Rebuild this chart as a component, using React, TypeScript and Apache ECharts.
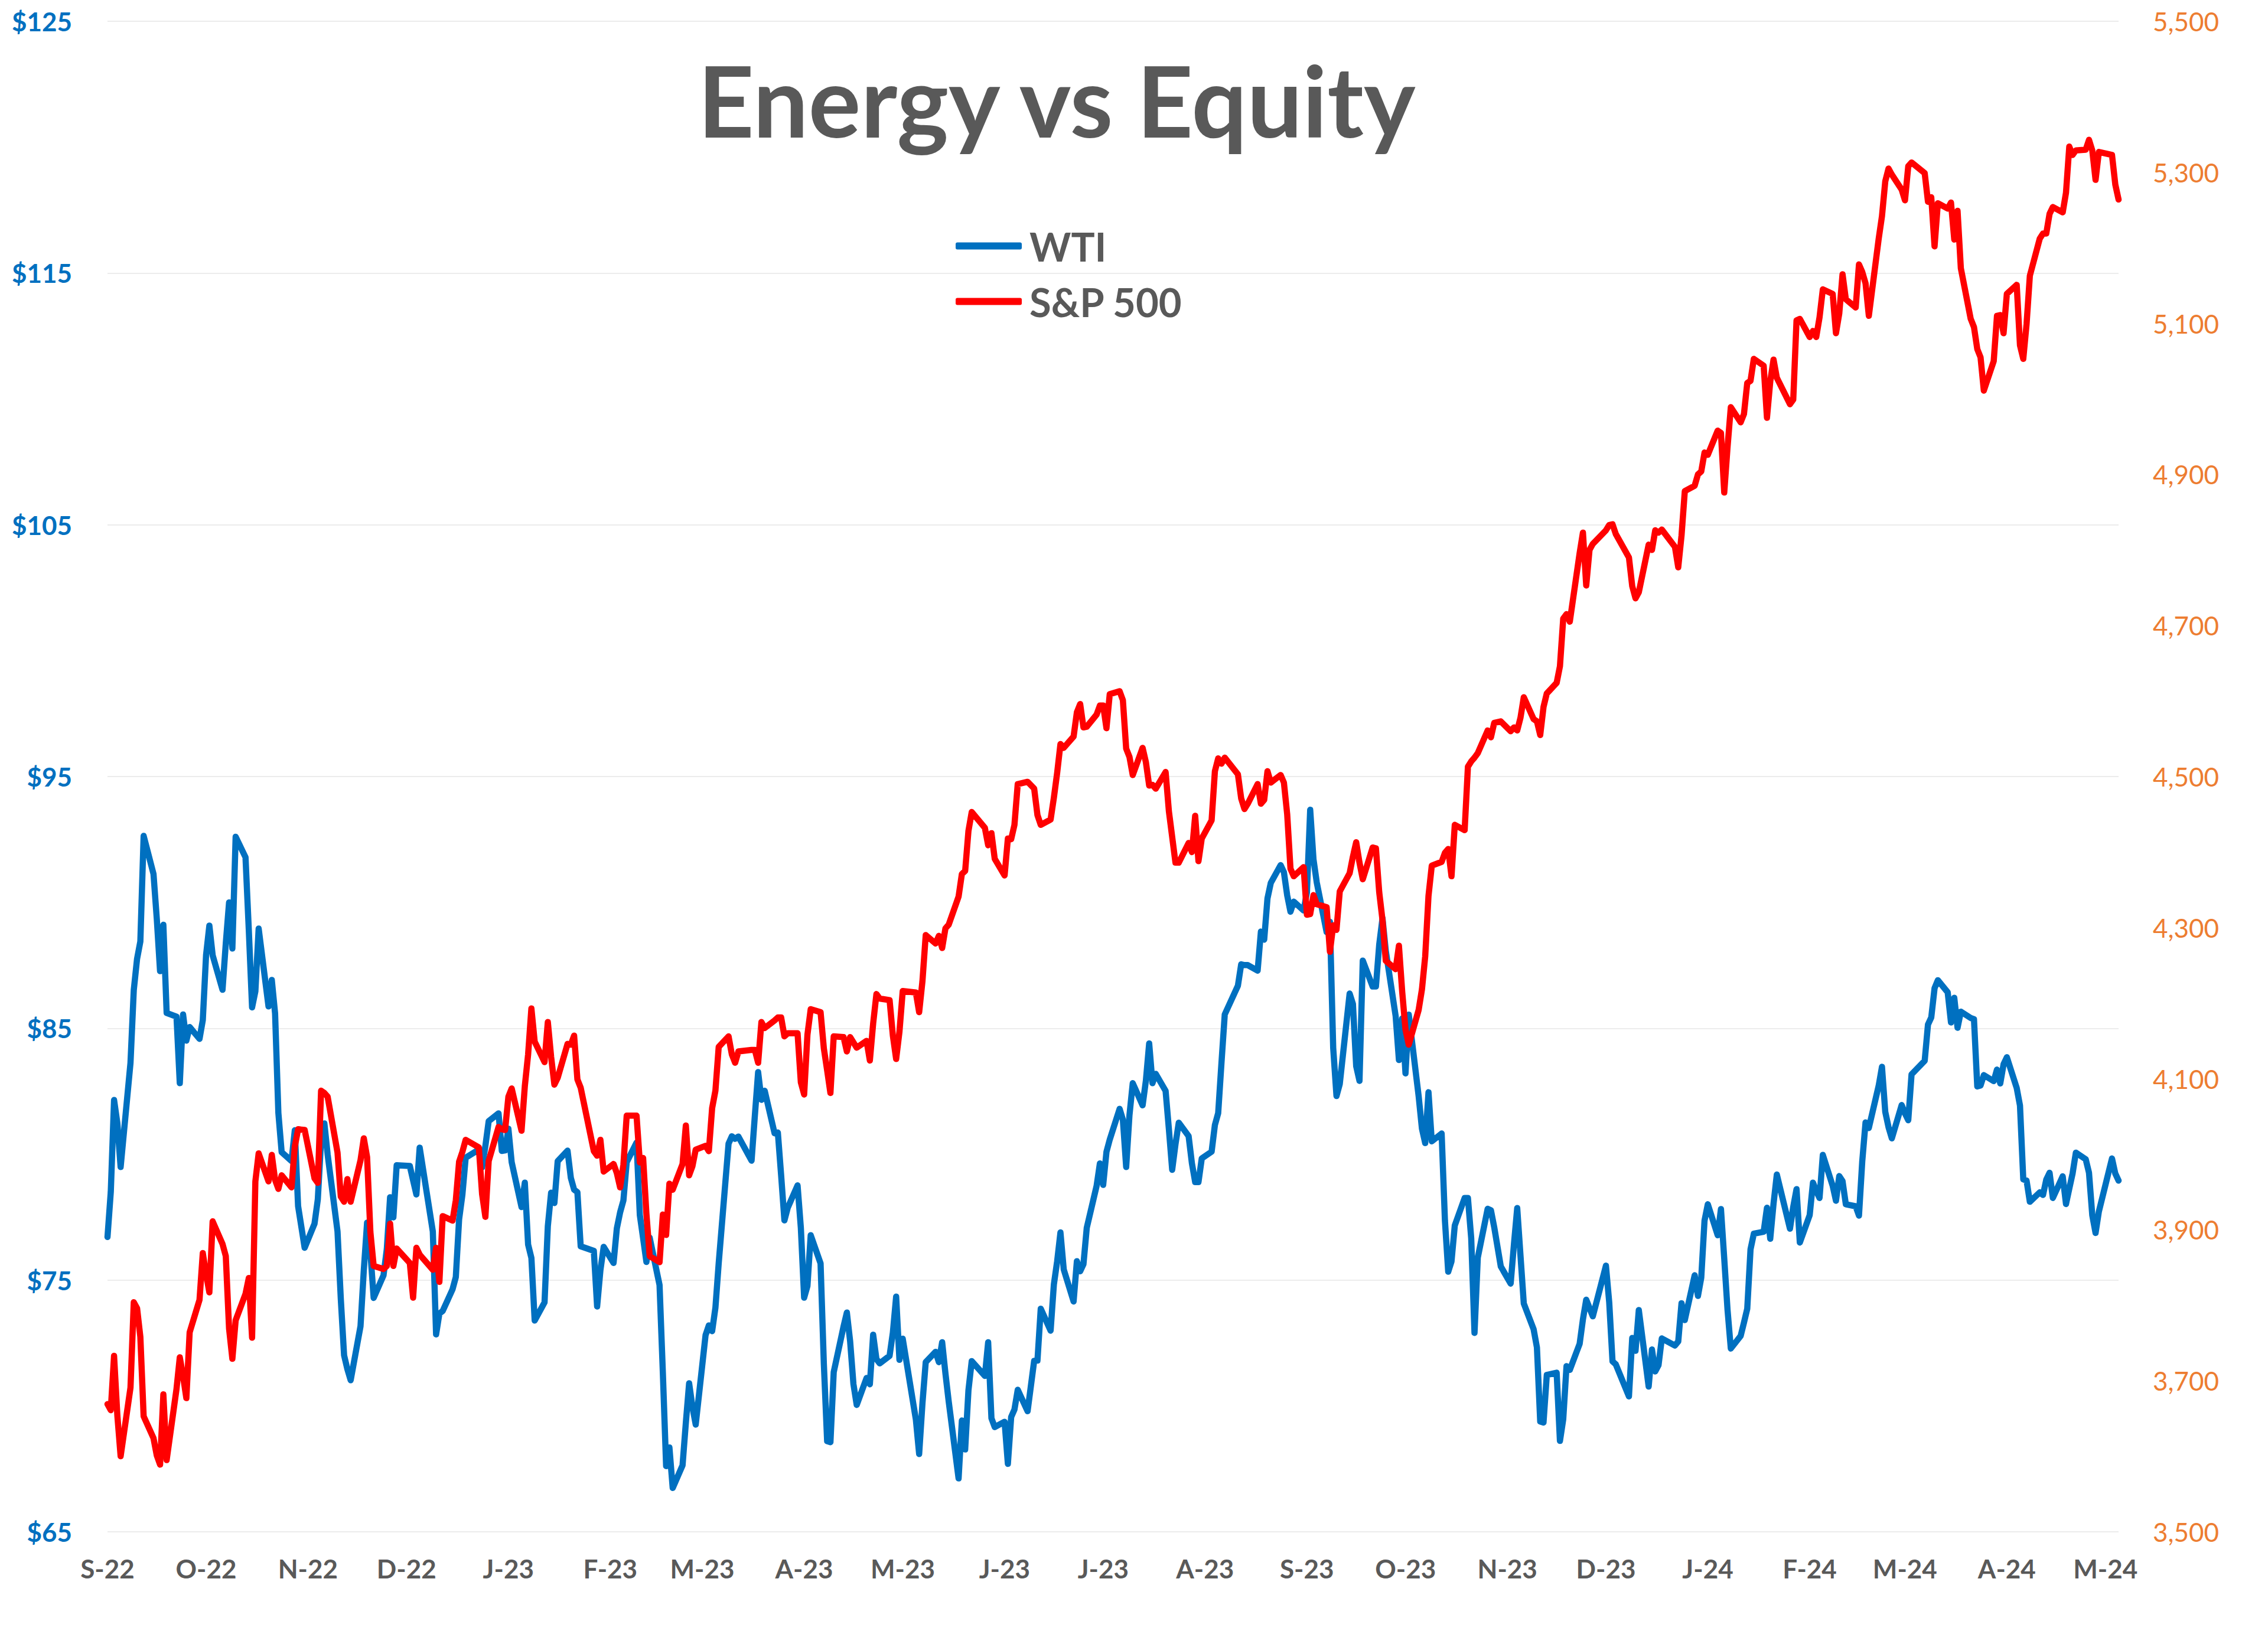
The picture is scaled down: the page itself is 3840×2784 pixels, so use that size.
import React, { useEffect, useRef } from 'react';
import * as echarts from 'echarts';

// ---------- Data (trading days, WTI $/bbl, S&P 500 futures) ----------
const days2022 = [
  '09-26','09-27','09-28','09-29','09-30',
  '10-03','10-04','10-05','10-06','10-07','10-10','10-11','10-12','10-13','10-14','10-17','10-18','10-19','10-20','10-21','10-24','10-25','10-26','10-27','10-28','10-31',
  '11-01','11-02','11-03','11-04','11-07','11-08','11-09','11-10','11-11','11-14','11-15','11-16','11-17','11-18','11-21','11-22','11-23','11-25','11-28','11-29','11-30',
  '12-01','12-02','12-05','12-06','12-07','12-08','12-09','12-12','12-13','12-14','12-15','12-16','12-19','12-20','12-21','12-22','12-23','12-27','12-28','12-29','12-30'
];
const wti2022 = [
  76.71,78.50,82.15,81.23,79.49,
  83.63,86.52,87.76,88.45,92.64,91.13,89.35,87.27,89.11,85.61,85.46,82.82,85.55,84.51,85.05,84.58,85.32,87.91,89.08,87.90,86.53,
  88.37,90.00,88.17,92.61,91.79,88.91,85.83,86.47,88.96,85.87,86.92,85.59,81.64,80.08,79.73,80.95,77.94,76.28,77.24,78.20,80.55,
  81.22,79.98,76.93,74.25,72.01,71.46,71.02,73.17,75.39,77.28,76.11,74.29,75.19,76.23,78.29,77.49,79.56,79.53,78.96,78.40,80.26
];
const spx2022 = [
  3669,3661,3733,3654,3600,
  3691,3804,3796,3758,3653,3624,3601,3589,3682,3595,3689,3731,3706,3677,3764,3807,3869,3841,3817,3911,3881,
  3865,3769,3729,3780,3815,3836,3757,3964,4001,3964,3999,3966,3954,3972,3956,4010,4033,4032,3968,3962,4084,
  4081,4076,4002,3944,3937,3967,3937,3992,4021,3996,3897,3852,3848,3852,3908,3852,3875,3856,3810,3876,3867
];

const days2023 = [
  '01-03','01-04','01-05','01-06','01-09','01-10','01-11','01-12','01-13','01-17','01-18','01-19','01-20','01-23','01-24','01-25','01-26','01-27','01-30','01-31',
  '02-01','02-02','02-03','02-06','02-07','02-08','02-09','02-10','02-13','02-14','02-15','02-16','02-17','02-21','02-22','02-23','02-24','02-27','02-28',
  '03-01','03-02','03-03','03-06','03-07','03-08','03-09','03-10','03-13','03-14','03-15','03-16','03-17','03-20','03-21','03-22','03-23','03-24','03-27','03-28','03-29','03-30','03-31',
  '04-03','04-04','04-05','04-06','04-10','04-11','04-12','04-13','04-14','04-17','04-18','04-19','04-20','04-21','04-24','04-25','04-26','04-27','04-28',
  '05-01','05-02','05-03','05-04','05-05','05-08','05-09','05-10','05-11','05-12','05-15','05-16','05-17','05-18','05-19','05-22','05-23','05-24','05-25','05-26','05-30','05-31',
  '06-01','06-02','06-05','06-06','06-07','06-08','06-09','06-12','06-13','06-14','06-15','06-16','06-20','06-21','06-22','06-23','06-26','06-27','06-28','06-29','06-30',
  '07-03','07-05','07-06','07-07','07-10','07-11','07-12','07-13','07-14','07-17','07-18','07-19','07-20','07-21','07-24','07-25','07-26','07-27','07-28','07-31',
  '08-01','08-02','08-03','08-04','08-07','08-08','08-09','08-10','08-11','08-14','08-15','08-16','08-17','08-18','08-21','08-22','08-23','08-24','08-25','08-28','08-29','08-30','08-31',
  '09-01','09-05','09-06','09-07','09-08','09-11','09-12','09-13','09-14','09-15','09-18','09-19','09-20','09-21','09-22','09-25','09-26','09-27','09-28','09-29',
  '10-02','10-03','10-04','10-05','10-06','10-09','10-10','10-11','10-12','10-13','10-16','10-17','10-18','10-19','10-20','10-23','10-24','10-25','10-26','10-27','10-30','10-31',
  '11-01','11-02','11-03','11-06','11-07','11-08','11-09','11-10','11-13','11-14','11-15','11-16','11-17','11-20','11-21','11-22','11-24','11-27','11-28','11-29','11-30',
  '12-01','12-04','12-05','12-06','12-07','12-08','12-11','12-12','12-13','12-14','12-15','12-18','12-19','12-20','12-21','12-22','12-26','12-27','12-28','12-29'
];
const wti2023 = [
  76.93,72.84,73.67,73.77,74.63,75.12,77.41,78.39,79.86,80.18,79.48,80.33,81.31,81.62,80.13,80.15,81.01,79.68,77.90,78.87,
  76.41,75.88,73.39,74.11,77.14,78.47,78.06,79.72,80.14,79.06,78.59,78.49,76.34,76.16,73.95,75.39,76.32,75.68,77.05,
  77.69,78.16,79.68,80.46,77.58,76.66,75.72,76.68,74.80,71.33,67.61,68.35,66.74,67.64,69.33,70.90,69.96,69.26,72.81,73.20,72.97,73.90,75.67,
  80.42,80.71,80.61,80.70,79.74,81.53,83.26,82.16,82.52,80.83,80.86,79.16,77.37,77.87,78.76,77.07,74.30,74.76,76.78,
  75.66,71.66,68.60,68.56,71.34,73.16,73.71,72.56,70.87,70.04,71.11,70.86,72.83,71.86,71.69,71.99,72.91,74.34,71.83,72.67,69.46,68.09,
  70.10,71.74,72.15,71.74,72.53,71.29,70.17,67.12,69.42,68.27,70.62,71.78,71.19,72.53,69.51,69.16,69.37,67.70,69.56,69.86,70.64,
  69.79,71.79,71.80,73.86,72.99,74.83,75.75,76.89,75.42,74.15,75.75,75.35,75.63,77.07,78.74,79.63,78.78,80.09,80.58,81.80,
  81.37,79.49,81.55,82.82,81.94,82.92,84.40,82.82,83.19,82.51,80.99,79.38,80.39,81.25,80.72,79.64,78.89,78.89,79.83,80.10,81.16,81.63,83.63,
  85.55,86.69,87.54,87.51,87.51,87.29,88.84,88.52,90.16,90.77,91.48,91.20,90.28,89.63,90.03,89.68,90.39,93.68,91.71,90.79,
  88.82,89.23,84.22,82.31,82.79,86.38,85.97,83.49,82.91,87.69,86.66,86.66,88.32,89.37,88.08,85.49,83.74,85.39,83.21,85.54,82.31,81.02,
  80.44,82.46,80.51,80.82,77.37,75.33,75.74,77.17,78.26,78.26,76.66,72.90,75.89,77.83,77.77,77.10,75.54,74.86,76.41,77.86,75.96,
  74.07,73.04,72.32,69.38,69.34,71.23,71.32,68.61,69.47,71.58,71.43,72.47,73.44,74.22,73.89,73.56,75.57,74.11,71.77,71.65
];
const spx2023 = [
  3847,3876,3831,3918,3912,3939,3990,4003,4019,4009,3947,3917,3991,4036,4033,4032,4076,4087,4031,4090,
  4132,4193,4149,4122,4175,4129,4092,4101,4146,4145,4157,4099,4088,4004,3998,4019,3977,3987,3975,
  3956,3986,4051,4051,3989,3995,3921,3865,3857,3920,3893,3961,3953,3987,4038,3972,3984,4006,4011,4004,4061,4084,4142,
  4156,4132,4121,4136,4138,4138,4121,4175,4167,4177,4181,4181,4156,4160,4160,4095,4079,4158,4192,
  4188,4140,4111,4081,4156,4155,4136,4155,4148,4141,4150,4124,4173,4212,4206,4204,4157,4126,4162,4216,4214,4188,
  4229,4290,4279,4289,4273,4299,4304,4341,4371,4375,4428,4453,4432,4409,4425,4391,4369,4418,4417,4436,4490,
  4493,4484,4449,4436,4443,4472,4505,4543,4538,4553,4585,4596,4565,4566,4582,4594,4594,4564,4609,4613,
  4601,4537,4526,4502,4538,4519,4488,4489,4484,4506,4454,4420,4386,4386,4412,4400,4448,4388,4418,4442,4507,4524,4517,
  4525,4503,4471,4457,4464,4490,4464,4469,4507,4492,4502,4492,4450,4378,4368,4380,4317,4318,4343,4331,
  4327,4268,4303,4297,4348,4372,4394,4413,4386,4364,4406,4405,4347,4310,4256,4245,4276,4215,4165,4145,4191,4218,
  4262,4342,4382,4387,4399,4404,4368,4436,4429,4513,4520,4525,4531,4561,4552,4571,4573,4560,4565,4561,4578,
  4605,4576,4573,4555,4592,4610,4624,4646,4709,4715,4705,4796,4823,4753,4800,4808,4826,4833,4834,4821
];

const days2024 = [
  '01-02','01-03','01-04','01-05','01-08','01-09','01-10','01-11','01-12','01-16','01-17','01-18','01-19','01-22','01-23','01-24','01-25','01-26','01-29','01-30','01-31',
  '02-01','02-02','02-05','02-06','02-07','02-08','02-09','02-12','02-13','02-14','02-15','02-16','02-20','02-21','02-22','02-23','02-26','02-27','02-28','02-29',
  '03-01','03-04','03-05','03-06','03-07','03-08','03-11','03-12','03-13','03-14','03-15','03-18','03-19','03-20','03-21','03-22','03-25','03-26','03-27','03-28',
  '04-01','04-02','04-03','04-04','04-05','04-08','04-09','04-10','04-11','04-12','04-15','04-16','04-17','04-18','04-19','04-22','04-23','04-24','04-25','04-26','04-29','04-30',
  '05-01','05-02','05-03','05-06','05-07','05-08','05-09','05-10','05-13','05-14','05-15','05-16','05-17','05-20','05-21','05-22','05-23','05-24','05-28','05-29','05-30'
];
const wti2024 = [
  70.38,72.70,72.19,73.81,70.77,72.24,71.37,71.62,72.68,72.40,72.56,74.08,73.41,75.19,74.37,75.09,77.36,78.01,76.78,77.82,75.85,
  73.82,72.28,72.78,73.31,73.86,76.22,76.84,76.92,77.87,76.64,78.03,79.19,77.04,77.91,78.61,76.49,77.58,78.87,78.54,78.26,
  79.97,78.74,78.15,79.13,78.93,78.01,77.93,77.56,79.72,81.26,81.04,82.72,83.47,81.68,81.07,80.63,81.95,81.62,81.35,83.17,
  83.71,85.15,85.43,86.59,86.91,86.43,85.23,86.21,85.02,85.66,85.41,85.36,82.69,82.73,83.14,82.90,83.36,82.81,83.57,83.85,82.63,81.93,
  79.00,78.95,78.11,78.48,78.38,78.99,79.26,78.26,79.12,78.02,78.63,79.23,80.06,79.80,79.26,77.57,76.87,77.72,79.83,79.23,78.95
];
const spx2024 = [
  4790,4752,4736,4744,4807,4800,4826,4823,4827,4804,4777,4819,4878,4885,4900,4904,4929,4926,4958,4955,4876,
  4936,4989,4969,4980,5021,5024,5053,5044,4975,5023,5052,5028,4993,4999,5104,5106,5082,5090,5082,5108,
  5145,5139,5087,5113,5165,5132,5121,5178,5168,5153,5110,5212,5242,5288,5305,5297,5277,5263,5308,5313,
  5299,5261,5267,5202,5259,5252,5260,5211,5249,5173,5106,5095,5066,5055,5011,5050,5110,5111,5087,5139,5151,5071,
  5053,5099,5163,5212,5219,5219,5245,5254,5247,5273,5334,5323,5329,5330,5343,5329,5290,5327,5323,5284,5264
];

const xTickDates = [
  '2022-09-26','2022-10-26','2022-11-26','2022-12-26','2023-01-26','2023-02-26','2023-03-26',
  '2023-04-26','2023-05-26','2023-06-26','2023-07-26','2023-08-26','2023-09-26','2023-10-26',
  '2023-11-26','2023-12-26','2024-01-26','2024-02-26','2024-03-26','2024-04-26','2024-05-26'
];
const xTickLabels = [
  'S-22','O-22','N-22','D-22','J-23','F-23','M-23','A-23','M-23','J-23','J-23',
  'A-23','S-23','O-23','N-23','D-23','J-24','F-24','M-24','A-24','M-24'
];
const xStart = '2022-09-26';
const xEnd = '2024-05-30';

const seriesNames = ['WTI', 'S&P 500'];
const TITLE = 'Energy vs Equity';

// ---------- helpers ----------
const ts = (s: string) => {
  const [y, m, d] = s.split('-').map(Number);
  return Date.UTC(y, m - 1, d);
};

function buildSeries(year: number, days: string[], vals: number[]) {
  return days.map((d, i) => [ts(`${year}-${d}`), vals[i]]);
}

export default function App() {
  const ref = useRef<HTMLDivElement>(null);

  useEffect(() => {
    if (!ref.current) return;
    const chart = echarts.init(ref.current, undefined, { renderer: 'svg' });

    const wtiData = [
      ...buildSeries(2022, days2022, wti2022),
      ...buildSeries(2023, days2023, wti2023),
      ...buildSeries(2024, days2024, wti2024),
    ];
    const spxData = [
      ...buildSeries(2022, days2022, spx2022),
      ...buildSeries(2023, days2023, spx2023),
      ...buildSeries(2024, days2024, spx2024),
    ];
    const tickTs = xTickDates.map(ts);
    const labelFor = (v: number) => {
      let best = 0;
      let bd = Infinity;
      tickTs.forEach((t, i) => {
        const dd = Math.abs(t - v);
        if (dd < bd) { bd = dd; best = i; }
      });
      return bd < 86400000 * 2 ? xTickLabels[best] : '';
    };

    const FONT = 'Lato, "Open Sans", "DejaVu Sans", sans-serif';

    chart.setOption({
      animation: false,
      backgroundColor: '#ffffff',
      grid: { left: 182, right: 253, top: 36, bottom: 190, containLabel: false },
      legend: {
        orient: 'vertical',
        left: 1618,
        top: 383,
        padding: 0,
        itemWidth: 112,
        itemHeight: 12,
        itemGap: 27,
        icon: 'roundRect',
        data: seriesNames,
        textStyle: {
          fontFamily: FONT,
          fontWeight: 'bold',
          fontSize: 67,
          color: '#595959',
          padding: [0, 0, 0, 8],
        },
      },
      graphic: [
        {
          type: 'text',
          x: 1789,
          y: 168,
          style: {
            text: TITLE,
            fill: '#595959',
            font: `bold 166px ${FONT}`,
            textAlign: 'center',
            textVerticalAlign: 'middle',
          },
        },
      ],
      xAxis: {
        type: 'value',
        min: ts(xStart),
        max: ts(xEnd),
        axisLine: { show: false },
        axisTick: { show: false },
        splitLine: { show: false },
        axisLabel: {
          customValues: tickTs,
          formatter: (v: number) => labelFor(v),
          fontFamily: FONT,
          fontWeight: 'bold',
          fontSize: 44,
          color: '#595959',
          margin: 40,
        },
      },
      yAxis: [
        {
          type: 'value',
          min: 65,
          max: 125,
          interval: 10,
          position: 'left',
          axisLine: { show: false },
          axisTick: { show: false },
          splitLine: { show: true, lineStyle: { color: '#ECECEC', width: 2 } },
          axisLabel: {
            formatter: (v: number) => `$${v}`,
            fontFamily: FONT,
            fontWeight: 'bold',
            fontSize: 44,
            color: '#0070C0',
            margin: 60,
          },
        },
        {
          type: 'value',
          min: 3500,
          max: 5500,
          interval: 200,
          position: 'right',
          axisLine: { show: false },
          axisTick: { show: false },
          splitLine: { show: false },
          axisLabel: {
            formatter: (v: number) => v.toLocaleString('en-US'),
            fontFamily: FONT,
            fontWeight: 'normal',
            fontSize: 44,
            color: '#ED7D31',
            margin: 58,
          },
        },
      ],
      series: [
        {
          name: seriesNames[0],
          type: 'line',
          yAxisIndex: 0,
          data: wtiData,
          showSymbol: false,
          symbol: 'none',
          silent: true,
          lineStyle: { width: 10.5, color: '#0070C0', cap: 'round', join: 'round' },
          itemStyle: { color: '#0070C0' },
        },
        {
          name: seriesNames[1],
          type: 'line',
          yAxisIndex: 1,
          data: spxData,
          showSymbol: false,
          symbol: 'none',
          silent: true,
          lineStyle: { width: 10.5, color: '#FF0000', cap: 'round', join: 'round' },
          itemStyle: { color: '#FF0000' },
        },
      ],
    });

    return () => chart.dispose();
  }, []);

  return (
    <div
      ref={ref}
      style={{ position: 'fixed', left: 0, top: 0, width: 3840, height: 2784, background: '#ffffff' }}
    />
  );
}
